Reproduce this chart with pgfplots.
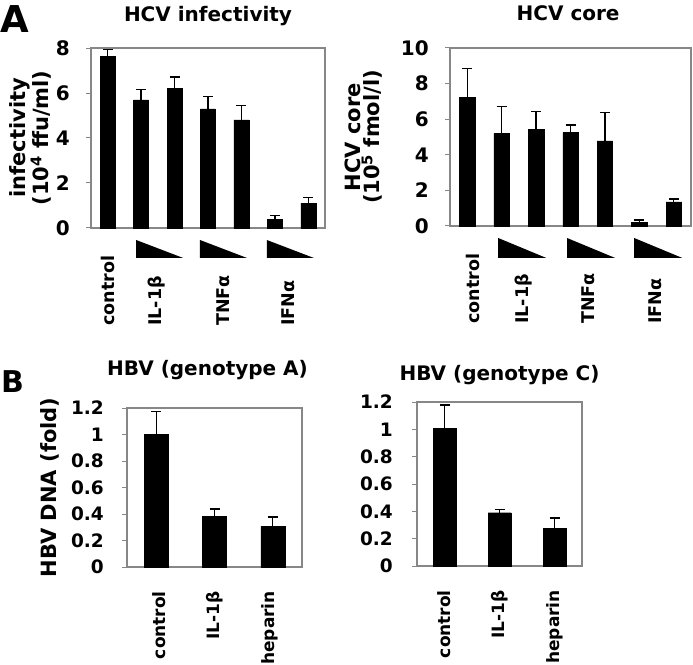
\documentclass[border=0pt]{standalone}
\usepackage{fontspec}
\setmainfont{DejaVu Sans}
\usepackage{pgfplots}
\pgfplotsset{compat=1.18}
\definecolor{framegray}{RGB}{135,135,135}
\newcommand{\fs}[1]{\fontsize{#1}{#1}\selectfont\bfseries}
\pgfplotsset{
  panel/.style={
    scale only axis,
    ybar,
    ymin=0,
    clip=false,
    axis line style={framegray, line width=1.2pt},
    tick style={framegray, line width=1pt},
    ytick pos=left,
    tick align=outside,
    major tick length=5pt,
    xtick style={draw=none},
    /pgf/number format/assume math mode=true,
    yticklabel style={font=\fs{18.5}, anchor=east, inner sep=0pt, xshift=-16pt},
    ylabel style={font=\fontsize{21}{19}\selectfont\bfseries, align=center, anchor=center},
    title style={font=\fs{20}, anchor=base},
  },
  barstyle/.style={
    fill=black, draw=black,
    error bars/y dir=plus,
    error bars/y explicit,
    error bars/error bar style={line width=1.3pt, black},
    error bars/error mark=-,
    error bars/error mark options={rotate=90, line width=1.6pt, mark size=5pt, black},
  },
  paneltop/.style={
    xticklabel style={yshift=-93pt, rotate=90, anchor=west, inner sep=0pt, font=\fs{17.5}},
    yticklabel style={font=\fs{20}},
  },
  panelbot/.style={
    xticklabel style={yshift=-19pt, rotate=90, anchor=east, inner sep=0pt, font=\fs{17}},
  },
}
\begin{document}
\begin{tikzpicture}
\useasboundingbox (0pt,0pt) rectangle (693pt,664pt);

% ---------- A left: HCV infectivity ----------
\begin{axis}[panel, paneltop,
  at={(91pt,436pt)}, anchor=south west,
  width=234pt, height=180pt,
  xmin=-0.5, xmax=6.5, ymax=8,
  ytick={0,2,4,6,8},
  bar width=15pt,
  xtick={0,1.45,3.45,5.4},
  xticklabels={control,IL-1β,TNFα,IFNα},
  ylabel={infectivity\\(10\textsuperscript{4} ffu/ml)},
  ylabel style={at={(axis description cs:-0.259,0.5)}},
  title={HCV infectivity},
  title style={at={(axis description cs:0.5,1)}, yshift=21pt},
]
\addplot[barstyle] table[x=x, y=y, y error=e]{
x y e
0 7.63 0.30
1 5.70 0.45
2 6.22 0.48
3 5.29 0.56
4 4.81 0.63
5 0.37 0.18
6 1.11 0.24
};
\fill ([yshift=-12pt]axis cs:0.85,0) -- ([yshift=-30pt]axis cs:0.85,0) -- ([yshift=-30pt]axis cs:2.26,0) -- cycle;
\fill ([yshift=-12pt]axis cs:2.76,0) -- ([yshift=-30pt]axis cs:2.76,0) -- ([yshift=-30pt]axis cs:4.17,0) -- cycle;
\fill ([yshift=-12pt]axis cs:4.76,0) -- ([yshift=-30pt]axis cs:4.76,0) -- ([yshift=-30pt]axis cs:6.17,0) -- cycle;
\end{axis}

% ---------- A right: HCV core ----------
\begin{axis}[panel, paneltop,
  at={(450pt,438pt)}, anchor=south west,
  width=241pt, height=178pt,
  xmin=-0.5, xmax=6.5, ymax=10,
  ytick={0,2,4,6,8,10},
  bar width=15.5pt,
  xtick={0.1,1.55,3.45,5.4},
  xticklabels={control,IL-1β,TNFα,IFNα},
  xticklabel style={yshift=-2.5pt},
  ylabel={HCV core\\(10\textsuperscript{5} fmol/l)},
  ylabel style={at={(axis description cs:-0.357,0.5)}},
  title={HCV core},
  title style={at={(axis description cs:0.49,1)}, yshift=21pt},
]
\addplot[barstyle] table[x=x, y=y, y error=e]{
x y e
0 7.22 1.62
1 5.21 1.50
2 5.44 0.99
3 5.25 0.43
4 4.78 1.60
5 0.19 0.15
6 1.35 0.17
};
\fill ([yshift=-12pt]axis cs:0.9,0) -- ([yshift=-32pt]axis cs:0.9,0) -- ([yshift=-32pt]axis cs:2.3,0) -- cycle;
\fill ([yshift=-12pt]axis cs:2.9,0) -- ([yshift=-32pt]axis cs:2.9,0) -- ([yshift=-32pt]axis cs:4.3,0) -- cycle;
\fill ([yshift=-12pt]axis cs:4.85,0) -- ([yshift=-32pt]axis cs:4.85,0) -- ([yshift=-32pt]axis cs:6.25,0) -- cycle;
\end{axis}

% ---------- B left: HBV genotype A ----------
\begin{axis}[panel, panelbot,
  at={(127pt,97pt)}, anchor=south west,
  width=175pt, height=159pt,
  xmin=-0.5, xmax=2.5, ymax=1.2,
  ytick={0,0.2,0.4,0.6,0.8,1,1.2},
  yticklabel style={xshift=-2pt},
  bar width=24pt,
  xtick={0.05,1,1.95},
  xticklabels={control,IL-1β,heparin},
  ylabel={HBV DNA (fold)},
  ylabel style={at={(axis description cs:-0.443,0.5)}},
  title={HBV (genotype A)},
  title style={at={(axis description cs:0.46,1)}, yshift=26pt},
]
\addplot[barstyle] table[x=x, y=y, y error=e]{
x y e
0 1.000 0.175
1 0.382 0.058
2 0.307 0.070
};
\end{axis}

% ---------- B right: HBV genotype C ----------
\begin{axis}[panel, panelbot,
  at={(417pt,98pt)}, anchor=south west,
  width=165pt, height=164pt,
  xmin=-0.5, xmax=2.5, ymax=1.2,
  ytick={0,0.2,0.4,0.6,0.8,1,1.2},
  yticklabel style={xshift=-3pt},
  bar width=23pt,
  xtick={0,1,2},
  xticklabels={control,IL-1β,heparin},
  title={HBV (genotype C)},
  title style={at={(axis description cs:0.5,1)}, yshift=15pt},
]
\addplot[barstyle] table[x=x, y=y, y error=e]{
x y e
0 1.005 0.171
1 0.390 0.024
2 0.275 0.078
};
\end{axis}

\node[anchor=north west, inner sep=0pt, font=\fs{37}] at (0pt,659pt) {A};
\node[anchor=north west, inner sep=0pt, font=\fs{30}] at (1pt,294pt) {B};
\end{tikzpicture}
\end{document}
